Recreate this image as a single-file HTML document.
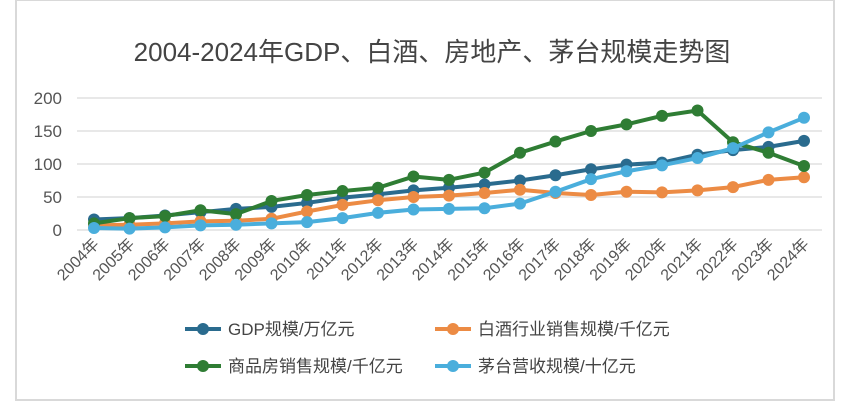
<!DOCTYPE html>
<html><head><meta charset="utf-8"><style>
body{margin:0;background:#fff;font-family:"Liberation Sans","Noto Sans CJK SC",sans-serif;}
#wrap{position:relative;width:861px;height:401px;overflow:hidden;}
</style></head><body>
<div id="wrap">
<svg id="chart" width="861" height="401"></svg>
</div>
<script>
const years=["2004年","2005年","2006年","2007年","2008年","2009年","2010年","2011年","2012年","2013年","2014年","2015年","2016年","2017年","2018年","2019年","2020年","2021年","2022年","2023年","2024年"];
const gdp=[16,18,22,27,32,35,41,49,54,60,64,69,75,83,92,99,102,114,121,126,135];
const baijiu=[7,8,10,13,14,17,28,38,45,50,52,56,61,56,53,58,57,60,65,76,80];
const housing=[10,18,21,30,24,44,53,59,64,81,76,87,117,134,150,160,173,181,133,117,97];
const moutai=[3,2,4,7,8,10,12,18,26,31,32,33,40,58,77,89,98,109,124,148,170];
const yTicks=[0,50,100,150,200];
const seriesNames=["GDP规模/万亿元","白酒行业销售规模/千亿元","商品房销售规模/千亿元","茅台营收规模/十亿元"];
const colors=["#2a6b8e","#ec8b44","#2f7d34","#4aaedc"];
const NS="http://www.w3.org/2000/svg";
const svg=document.getElementById('chart');
function mk(t,a,p){const e=document.createElementNS(NS,t);for(const k in a)e.setAttribute(k,a[k]);(p||svg).appendChild(e);return e;}
const x0=94,x1=804,yb=230,yt=98;
const xs=i=>x0+(x1-x0)*i/(years.length-1);
const ys=v=>yb-(yb-yt)*v/200;
let fr=mk('rect',{x:16,y:0,width:818,height:400,fill:'none',stroke:'#d9d9d9','stroke-width':2});


let t=mk('text',{x:432,y:61,'text-anchor':'middle','font-size':26,fill:'#444'});t.textContent="2004-2024年GDP、白酒、房地产、茅台规模走势图";


yTicks.forEach(v=>{
 let g=mk('line',{x1:77,x2:822,y1:ys(v),y2:ys(v),stroke:'#e0e0e0','stroke-width':1.5});
 
 
 let l=mk('text',{x:62,y:ys(v)+6,'text-anchor':'end','font-size':17,fill:'#555'});l.textContent=v;
 
 
});
years.forEach((y,i)=>{
 let l=mk('text',{x:xs(i)+6,y:245,'text-anchor':'end','font-size':16,fill:'#555',transform:`rotate(-45 ${xs(i)+6} 245)`});l.textContent=y;
 
 
});
[gdp,baijiu,housing,moutai].forEach((d,si)=>{
 const g=mk('g',{});
 
 
 mk('polyline',{points:d.map((v,i)=>xs(i)+','+ys(v)).join(' '),fill:'none',stroke:colors[si],'stroke-width':4,'stroke-linejoin':'round'},g);
 d.forEach((v,i)=>{let c=mk('circle',{cx:xs(i),cy:ys(v),r:6,fill:colors[si]},g);
 
 });
});
const lp=[[190,329],[440,329],[190,366],[440,366]];
seriesNames.forEach((n,i)=>{
 const g=mk('g',{});
 
 
 const [lx,ly]=lp[i];
 mk('line',{x1:lx-5,x2:lx+31,y1:ly,y2:ly,stroke:colors[i],'stroke-width':4},g);
 mk('circle',{cx:lx+13,cy:ly,r:6,fill:colors[i]},g);
 const tx=mk('text',{x:lx+38,y:ly+6,'font-size':17,fill:'#444'},g);tx.textContent=n;
});
</script>
</body></html>
